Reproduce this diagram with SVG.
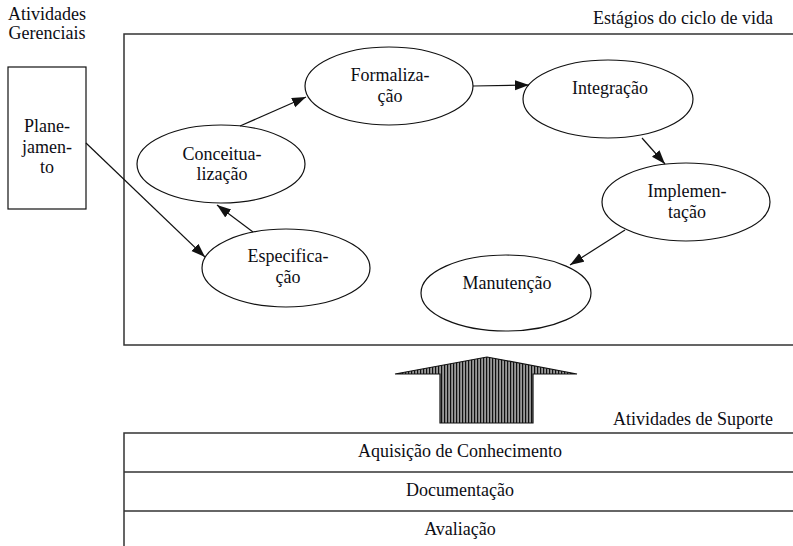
<svg xmlns="http://www.w3.org/2000/svg" width="793" height="546" viewBox="0 0 793 546" font-family="'Liberation Serif', Tinos, 'Times New Roman', 'DejaVu Serif', serif">
  <style>
    text { font-family: "Liberation Serif", Tinos, "Times New Roman", "DejaVu Serif", serif; font-size: 18px; fill: #0d0d14; }
    .c { text-anchor: middle; }
    .r { text-anchor: end; }
    .frame { fill: none; stroke: #333; stroke-width: 1.5; }
    .node { fill: #fff; stroke: #111; stroke-width: 1.2; }
    .edge { fill: none; stroke: #111; stroke-width: 1.2; }
  </style>
  <defs>
    <marker id="arrow" markerUnits="userSpaceOnUse" markerWidth="15" markerHeight="12" refX="14" refY="5" orient="auto">
      <path d="M0,0 L14,5 L0,10 z" fill="#111"/>
    </marker>
    <pattern id="stripes" patternUnits="userSpaceOnUse" width="3" height="10">
      <rect width="3" height="10" fill="#9a9a9a"/>
      <rect width="1.2" height="10" fill="#111"/>
    </pattern>
  </defs>

  <rect width="793" height="546" fill="#fff"/>

  <!-- titles -->
  <text class="c" x="47" y="20">Atividades</text>
  <text class="c" x="47" y="39">Gerenciais</text>
  <text class="r" x="773" y="24">Estágios do ciclo de vida</text>
  <text class="r" x="773" y="425">Atividades de Suporte</text>

  <!-- life-cycle frame -->
  <rect class="frame" x="124" y="34" width="700" height="311"/>

  <!-- management activity -->
  <g id="planejamento">
    <rect class="node" x="8" y="67" width="78" height="142"/>
    <text class="c" x="47" y="132">Plane-</text>
    <text class="c" x="47" y="153">jamen-</text>
    <text class="c" x="47" y="173">to</text>
  </g>

  <g id="formalizacao">
    <ellipse class="node" cx="389" cy="86" rx="84" ry="39"/>
    <text class="c" x="390" y="81">Formaliza-</text>
    <text class="c" x="390" y="102">ção</text>
  </g>
  <g id="integracao">
    <ellipse class="node" cx="608" cy="99" rx="85" ry="39"/>
    <text class="c" x="610" y="94">Integração</text>
  </g>
  <g id="conceitualizacao">
    <ellipse class="node" cx="221" cy="164" rx="84" ry="39"/>
    <text class="c" x="222" y="160">Conceitua-</text>
    <text class="c" x="222" y="180">lização</text>
  </g>
  <g id="implementacao">
    <ellipse class="node" cx="686" cy="202" rx="84" ry="39"/>
    <text class="c" x="687" y="197">Implemen-</text>
    <text class="c" x="687" y="218">tação</text>
  </g>
  <g id="especificacao">
    <ellipse class="node" cx="286" cy="268" rx="84" ry="39"/>
    <text class="c" x="288" y="262">Especifica-</text>
    <text class="c" x="288" y="283">ção</text>
  </g>
  <g id="manutencao">
    <ellipse class="node" cx="506" cy="293" rx="85" ry="38"/>
    <text class="c" x="507" y="289">Manutenção</text>
  </g>

  <!-- connectors -->
  <g id="connectors">
    <line class="edge" x1="86" y1="143" x2="205" y2="257" marker-end="url(#arrow)"/>
    <line class="edge" x1="253" y1="232" x2="217" y2="205" marker-end="url(#arrow)"/>
    <line class="edge" x1="240" y1="126" x2="306" y2="97" marker-end="url(#arrow)"/>
    <line class="edge" x1="473" y1="86" x2="529" y2="85" marker-end="url(#arrow)"/>
    <line class="edge" x1="642" y1="138" x2="665" y2="164" marker-end="url(#arrow)"/>
    <line class="edge" x1="625" y1="230" x2="570" y2="265" marker-end="url(#arrow)"/>
  </g>

  <!-- support arrow -->
  <path d="M440,423 L440,374 L395,374 L487,357 L577,374 L533,374 L533,423 Z" fill="url(#stripes)" stroke="#111" stroke-width="1.2"/>

  <!-- support activities -->
  <g id="suporte">
    <rect class="frame" x="124" y="433" width="700" height="130"/>
    <line class="frame" x1="124" y1="472" x2="824" y2="472"/>
    <line class="frame" x1="124" y1="511" x2="824" y2="511"/>
    <text class="c" x="460" y="457">Aquisição de Conhecimento</text>
    <text class="c" x="460" y="496">Documentação</text>
    <text class="c" x="460" y="535">Avaliação</text>
  </g>
</svg>
